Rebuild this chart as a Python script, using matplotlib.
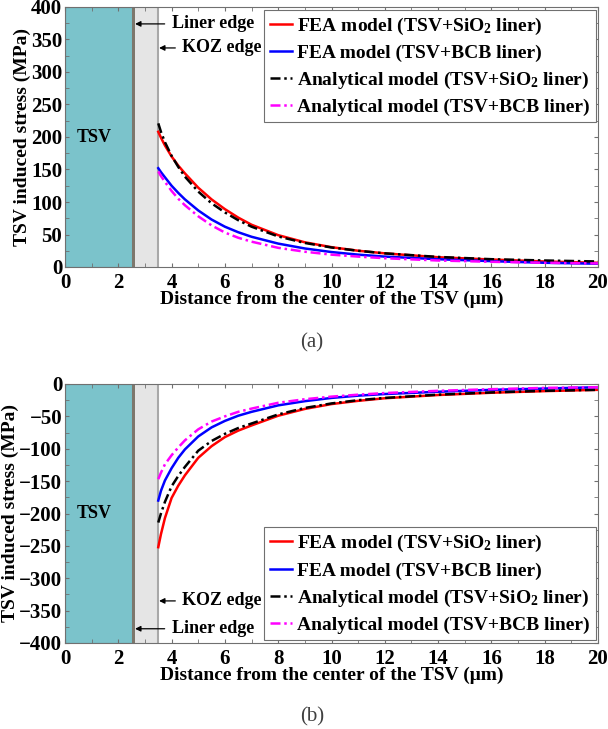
import matplotlib
matplotlib.use("Agg")
import matplotlib.pyplot as plt
from matplotlib.patches import Rectangle
from matplotlib.ticker import MultipleLocator

plt.rcParams["font.family"] = ["Liberation Serif", "DejaVu Serif"]
plt.rcParams["font.weight"] = "bold"
plt.rcParams["mathtext.fontset"] = "custom"
plt.rcParams["mathtext.rm"] = "Liberation Serif:bold"
plt.rcParams["mathtext.it"] = "Liberation Serif:bold"
plt.rcParams["mathtext.bf"] = "Liberation Serif:bold"

# distance from TSV center (um)
x = [3.5, 3.6, 3.75, 4, 4.25, 4.5, 5, 5.5, 6, 6.5, 7, 8, 9, 10, 11, 12, 14, 16, 18, 20]

# (a) stress, MPa
fea_sio2_a = [208, 199, 187, 170, 156, 144, 122, 104, 89, 76, 65, 49, 38, 30.5, 25, 21, 15, 11.5, 8.5, 6.5]
ana_sio2_a = [221, 208, 192, 171, 154, 139, 116, 98, 84, 72, 62, 47, 37, 30, 25, 21, 15.5, 12, 10, 8.5]
fea_bcb_a = [152, 146, 138, 125, 114, 104, 87, 73, 62, 53.5, 46.5, 36, 28.5, 23, 19, 16, 12, 9, 6.5, 5]
ana_bcb_a = [147, 140, 131, 117, 105, 95, 78, 64, 53, 45, 39, 29.5, 23.5, 19, 16, 13.5, 10, 8, 6.5, 5.5]

# (b) stress, MPa
fea_sio2_b = [-252, -232, -207, -176, -157, -141, -114, -96, -82, -72, -64, -49, -38.5, -31, -26, -22, -17, -13.5, -11, -9]
ana_sio2_b = [-214, -200, -182, -158, -142, -128, -103, -88, -77, -68, -61, -47, -37, -30, -25, -21.5, -16.5, -13, -10.5, -9]
fea_bcb_b = [-180, -165, -149, -130, -114, -101, -81, -67, -57, -49, -43, -33, -26.5, -21.5, -18, -15.5, -12, -9, -7, -5]
ana_bcb_b = [-147, -137, -124, -110, -98, -87, -70, -58, -50, -43, -38, -29, -23.5, -19.5, -16.5, -14, -10.5, -8, -6, -5]

labels = [
    "FEA model (TSV+SiO$_2$ liner)",
    "FEA model (TSV+BCB liner)",
    "Analytical model (TSV+SiO$_2$ liner)",
    "Analytical model (TSV+BCB liner)",
]

TSV_R = 2.5
LINER_R = 2.62
KOZ_R = 3.5


def draw_panel(ax, ylim, series, legend_loc, legend_anchor, notes):
    y0, y1 = ylim
    ax.add_patch(Rectangle((0, y0), TSV_R, y1 - y0, facecolor="#7bc3cb",
                           edgecolor="#5a9aa0", linewidth=0.8, zorder=1))
    ax.add_patch(Rectangle((TSV_R, y0), LINER_R - TSV_R, y1 - y0,
                           facecolor="#7d776c", edgecolor="none", zorder=1))
    ax.add_patch(Rectangle((LINER_R, y0), KOZ_R - LINER_R, y1 - y0,
                           facecolor="#e5e5e5", edgecolor="none", zorder=1))
    ax.axvline(KOZ_R, color="#a8a8a8", linewidth=1.5, zorder=2)
    ax.text(1.1, (y0 + y1) / 2, "TSV", fontsize=13, fontweight="bold",
            ha="center", va="center", zorder=3)

    s1, s2, s3, s4 = series
    ax.plot(x, s1, color="#ff0000", linewidth=1.8, label=labels[0], zorder=4)
    ax.plot(x, s2, color="#0000ff", linewidth=1.8, label=labels[1], zorder=4)
    ax.plot(x, s3, color="black", linewidth=1.8, linestyle=(0, (4, 1.5, 1, 1.5)),
            label=labels[2], zorder=5)
    ax.plot(x, s4, color="#ff00ff", linewidth=1.8, linestyle=(0, (4, 1.5, 1, 1.5)),
            label=labels[3], zorder=5)

    for text, yv, xtip, xtext in notes:
        ax.annotate(text, xy=(xtip, yv), xytext=(xtext, yv), fontsize=13,
                    fontweight="bold", va="center", ha="left",
                    arrowprops=dict(arrowstyle="-|>", color="black", lw=0.9,
                                    mutation_scale=8, shrinkA=3, shrinkB=0),
                    zorder=6)

    ax.set_xlim(0, 20)
    ax.set_ylim(y0, y1)
    ax.xaxis.set_major_locator(MultipleLocator(2))
    ax.xaxis.set_minor_locator(MultipleLocator(1))
    ax.yaxis.set_major_locator(MultipleLocator(50))
    ax.yaxis.set_minor_locator(MultipleLocator(25))
    ax.tick_params(which="both", direction="in", top=True, right=True,
                   length=3, color="#707070")
    ax.tick_params(axis="x", labelsize=15, pad=4)
    ax.tick_params(axis="y", labelsize=15, pad=2)
    for lab in ax.get_xticklabels() + ax.get_yticklabels():
        lab.set_fontweight("bold")
    for sp in ax.spines.values():
        sp.set_color("#707070")
        sp.set_linewidth(0.8)
        sp.set_zorder(7)

    ax.set_xlabel("Distance from the center of the TSV (μm)", fontsize=14,
                  fontweight="bold", labelpad=-1)
    ax.set_ylabel("TSV induced stress (MPa)", fontsize=14, fontweight="bold",
                  labelpad=0)

    leg = ax.legend(loc=legend_loc, bbox_to_anchor=legend_anchor, fontsize=14,
                    handlelength=1.1, handletextpad=0.3, labelspacing=0.4,
                    borderpad=0.3, fancybox=False, framealpha=1,
                    edgecolor="#707070", borderaxespad=0)
    leg.get_frame().set_linewidth(0.8)
    leg.set_zorder(8)
    for t in leg.get_texts():
        t.set_fontweight("bold")


fig = plt.figure(figsize=(6.08, 7.29), dpi=100)

ax_a = fig.add_axes([65 / 608, 1 - 267 / 729, 533 / 608, 260 / 729])
draw_panel(ax_a, (0, 400), (fea_sio2_a, fea_bcb_a, ana_sio2_a, ana_bcb_a),
           "upper right", (0.996, 0.99),
           [("Liner edge", 374, 2.63, 4.0), ("KOZ edge", 337, 3.53, 4.4)])

ax_b = fig.add_axes([65 / 608, 1 - 643 / 729, 533 / 608, 259 / 729])
draw_panel(ax_b, (-400, 0), (fea_sio2_b, fea_bcb_b, ana_sio2_b, ana_bcb_b),
           "lower right", (0.996, 0.012),
           [("KOZ edge", -335, 3.53, 4.4), ("Liner edge", -378, 2.63, 4.0)])

fig.text(312 / 608, 1 - 343 / 729, "(a)", fontsize=15, fontweight="normal",
         color="#404040", ha="center", va="center")
fig.text(312 / 608, 1 - 717 / 729, "(b)", fontsize=15, fontweight="normal",
         color="#404040", ha="center", va="center")

fig.savefig("out.png", dpi=100)
